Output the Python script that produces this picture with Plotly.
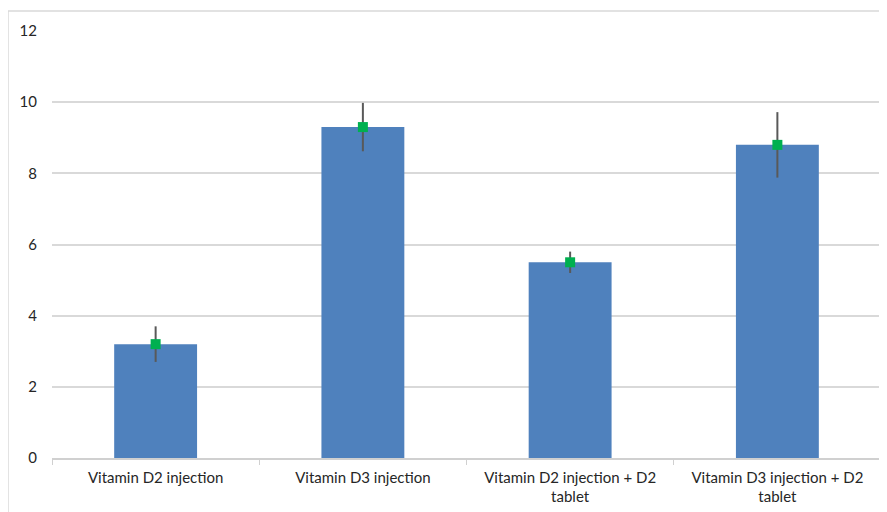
import plotly.graph_objects as go

categories = ["Vitamin D2 injection", "Vitamin D3 injection",
              "Vitamin D2 injection + D2<br>tablet", "Vitamin D3 injection + D2<br>tablet"]
means = [3.2, 9.3, 5.5, 8.8]
errors = [0.5, 0.68, 0.3, 0.92]
y_ticks = [0, 2, 4, 6, 8, 10, 12]

fig = go.Figure()
fig.add_trace(go.Bar(
    x=categories, y=means, width=0.4,
    marker=dict(color="#4F81BD", line=dict(width=0)),
    error_y=dict(type="data", array=errors, visible=True, color="#595959",
                 thickness=2, width=0),
    showlegend=False, hoverinfo="skip"))
fig.add_trace(go.Scatter(
    x=categories, y=means, mode="markers",
    marker=dict(symbol="square", size=10, color="#00B050"),
    showlegend=False, hoverinfo="skip"))

fig.update_layout(
    width=887, height=512,
    margin=dict(l=44, r=14, t=23, b=62, autoexpand=False),
    paper_bgcolor="white", plot_bgcolor="white",
    font=dict(family="Lato, Open Sans, sans-serif", size=15, color="#262626"),
    bargap=0.6,
    xaxis=dict(showline=True, linecolor="#d0d0d0", linewidth=1.5,
               ticks="outside", tickcolor="#d0d0d0", ticklen=5, tickson="boundaries",
               tickfont=dict(size=15, color="#262626"), showgrid=False,
               ticklabelstandoff=5, automargin=False),
    yaxis=dict(range=[0, 12], tickvals=y_ticks, showgrid=True, gridcolor="#d9d9d9",
               gridwidth=1.5, zeroline=False, ticks="", ticklabelstandoff=14,
               tickfont=dict(size=15, color="#262626"), automargin=False),
    shapes=[dict(type="rect", xref="paper", yref="paper",
                 x0=-0.0531, x1=1.2, y0=-0.3, y1=1.0468,
                 line=dict(color="#d9d9d9", width=1.5), fillcolor="rgba(0,0,0,0)",
                 layer="below")],
)
fig.write_html("out.html")
